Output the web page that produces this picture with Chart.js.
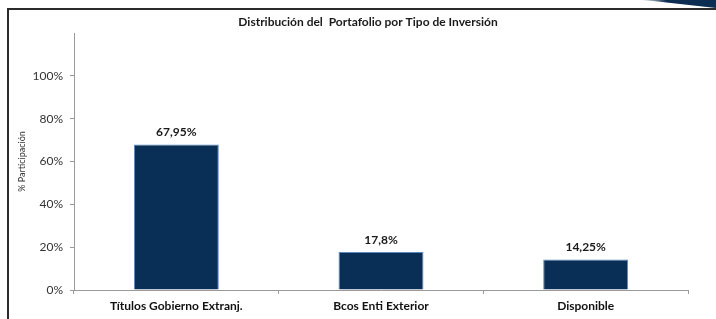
<!DOCTYPE html>
<html>
<head>
<meta charset="utf-8">
<script src="https://cdn.jsdelivr.net/npm/chart.js@4/dist/chart.umd.min.js"></script>
<style>
  html, body { margin: 0; padding: 0; background: #fff; }
  #wrap { position: relative; width: 716px; height: 319px; overflow: hidden; }
  #frame { position: absolute; left: 7px; top: 8px; width: 760px; height: 360px;
           border-top: 2px solid #2b2b2b; border-left: 2px solid #2b2b2b; }
  #swoosh { position: absolute; left: 640px; top: 0; width: 76px; height: 8px;
            background: linear-gradient(to right, rgba(12,46,82,0) 0%, #0c2e52 35%, #0c2e52 100%);
            clip-path: polygon(0 0, 100% 0, 100% 100%, 20% 15%); }
  canvas { position: absolute; left: 0; top: 0; }
</style>
</head>
<body>
<div id="wrap">
  <div id="frame"></div>
  <div id="swoosh"></div>
  <canvas id="myChart" width="716" height="319"></canvas>
</div>
<script>
// --- data ---
const categories = ['Títulos Gobierno Extranj.', 'Bcos Enti Exterior', 'Disponible'];
const participacion = [67.95, 17.8, 14.25];
const valueLabels = ['67,95%', '17,8%', '14,25%'];
const yTicks = [0, 20, 40, 60, 80, 100, 120];

const chartTitle = 'Distribución del  Portafolio por Tipo de Inversión';
const yAxisTitle = '% Participación';

const FONT = 'Lato, "Open Sans", sans-serif';

// draws the value above each bar
const barLabels = {
    id: 'barLabels',
    afterDatasetsDraw(chart) {
        const ctx = chart.ctx;
        const meta = chart.getDatasetMeta(0);
        ctx.save();
        ctx.font = 'bold 12px ' + FONT;
        ctx.fillStyle = '#1a1a1a';
        ctx.textAlign = 'center';
        ctx.textBaseline = 'middle';
        meta.data.forEach((bar, i) => {
            ctx.fillText(valueLabels[i], bar.x, bar.y - 12);
        });
        ctx.restore();
    }
};

// title drawn over the plot, centred a bit left of the plot centre like the original
const chartHeading = {
    id: 'chartHeading',
    afterDraw(chart) {
        const ctx = chart.ctx;
        ctx.save();
        ctx.font = 'bold 12px ' + FONT;
        ctx.fillStyle = '#1a1a1a';
        ctx.textAlign = 'center';
        ctx.textBaseline = 'middle';
        ctx.fillText(chartTitle, (chart.chartArea.left + chart.chartArea.right) / 2 - 13, 22);
        ctx.restore();
    }
};

function renderChart() {
    const ctx = document.getElementById('myChart').getContext('2d');

    const chartConfig = {
        type: 'bar',
        data: {
            labels: categories,
            datasets: [{
                data: participacion,
                backgroundColor: '#0a2f57',
                borderColor: '#5b88c0',
                borderWidth: 1,
                barPercentage: 0.415,
                categoryPercentage: 1
            }]
        },
        options: {
            responsive: false,
            animation: false,
            layout: {
                padding: { left: 10, right: 28, top: 33, bottom: 0 }
            },
            plugins: {
                legend: { display: false },
                tooltip: { enabled: false }
            },
            scales: {
                y: {
                    min: 0,
                    max: 120,
                    afterBuildTicks(scale) {
                        scale.ticks = yTicks.map(v => ({ value: v }));
                    },
                    afterFit(scale) {
                        scale.width = 64;
                    },
                    ticks: {
                        padding: 7,
                        color: '#333',
                        font: { family: FONT, size: 12 },
                        callback: v => (v > 100 ? '' : v + '%')
                    },
                    grid: {
                        drawOnChartArea: false,
                        tickLength: 4,
                        color: ctx => (ctx.tick && ctx.tick.value > 100 ? 'rgba(0,0,0,0)' : '#9a9a9a')
                    },
                    border: { color: '#9a9a9a' },
                    title: {
                        display: true,
                        text: yAxisTitle,
                        color: '#333',
                        font: { family: FONT, size: 9 },
                        padding: { top: 7, bottom: 0 }
                    }
                },
                x: {
                    afterFit(scale) {
                        scale.height = 29;
                    },
                    ticks: {
                        padding: 5,
                        color: '#111',
                        font: { family: FONT, size: 12, weight: 'bold' }
                    },
                    grid: {
                        offset: true,
                        drawOnChartArea: false,
                        tickLength: 4,
                        color: '#9a9a9a'
                    },
                    border: { color: '#9a9a9a' }
                }
            }
        },
        plugins: [barLabels, chartHeading]
    };

    new Chart(ctx, chartConfig);
}

renderChart();
</script>
</body>
</html>
